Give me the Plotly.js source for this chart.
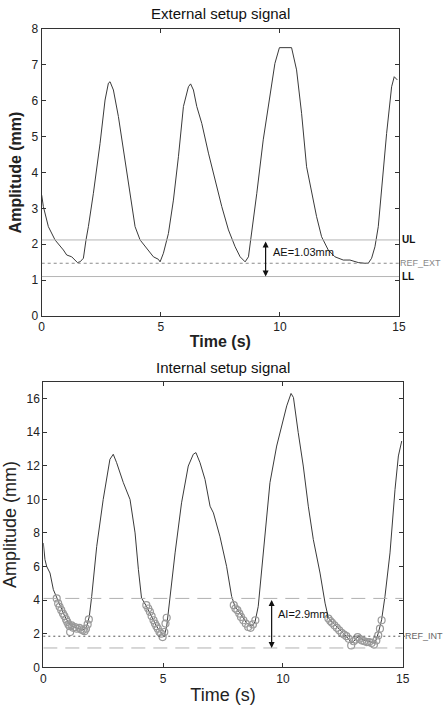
<!DOCTYPE html>
<html><head><meta charset="utf-8">
<script src="https://cdn.plot.ly/plotly-3.0.1.min.js"></script>
<style>html,body{margin:0;padding:0;background:#fff}#chart{width:445px;height:705px}</style>
</head><body><div id="chart"></div>
<script>
// External setup signal (top)
const extT = [0,0.07,0.28,0.56,0.91,1.05,1.26,1.50,1.61,1.75,1.86,1.96,2.17,2.45,2.66,2.80,2.87,3.01,3.22,3.50,3.78,3.92,4.13,4.41,4.69,4.90,4.97,5.11,5.32,5.53,5.74,5.95,6.16,6.25,6.37,6.51,6.72,7.00,7.28,7.56,7.84,8.12,8.33,8.54,8.68,8.82,9.03,9.30,9.58,9.79,9.98,10.49,10.70,10.91,11.12,11.33,11.54,11.75,12.03,12.31,12.66,12.94,13.29,13.57,13.71,13.85,13.99,14.13,14.27,14.48,14.69,14.80,14.93];
const extA = [3.37,3.05,2.49,2.12,1.84,1.70,1.65,1.49,1.51,1.61,2.12,2.49,3.42,4.81,6.02,6.49,6.53,6.30,5.56,4.35,3.23,2.49,2.12,1.89,1.65,1.58,1.51,1.75,2.30,3.23,4.44,5.84,6.39,6.47,6.30,5.84,5.37,4.54,3.79,3.05,2.40,1.93,1.65,1.51,1.65,2.30,3.42,4.91,6.12,7.04,7.48,7.48,6.86,5.65,4.16,3.42,2.77,2.21,1.84,1.65,1.56,1.56,1.49,1.47,1.47,1.61,1.93,2.49,3.61,5.09,6.39,6.67,6.58];
// Internal setup signal (bottom)
const intT = [0,0.07,0.14,0.28,0.42,0.56,0.70,0.90,1.11,1.39,1.67,1.81,1.92,2.02,2.23,2.50,2.78,2.92,3.06,3.34,3.62,3.83,3.97,4.10,4.31,4.52,4.73,4.94,5.04,5.15,5.29,5.50,5.77,6.05,6.26,6.37,6.54,6.75,6.96,7.10,7.37,7.65,7.86,8.00,8.21,8.49,8.70,8.84,8.97,9.18,9.46,9.74,9.95,10.16,10.34,10.44,10.64,10.85,11.06,11.27,11.55,11.76,11.90,12.10,12.38,12.66,12.87,13.01,13.15,13.36,13.64,13.84,13.98,14.12,14.26,14.47,14.68,14.82,14.96];
const intA = [7.40,6.41,6.01,5.61,4.62,4.12,3.62,3.02,2.53,2.33,2.23,2.43,3.02,4.22,7.20,9.99,12.38,12.68,12.18,10.99,9.99,8.00,5.81,4.12,3.62,3.02,2.43,2.03,1.83,2.43,4.22,6.81,9.79,11.98,12.68,12.78,12.18,11.18,9.59,9.19,7.80,6.01,4.22,3.62,3.22,2.63,2.43,2.73,3.62,6.61,10.99,13.17,14.37,15.56,16.30,16.06,13.97,11.98,9.59,7.60,5.61,3.82,2.93,2.63,2.23,1.83,1.43,1.63,1.83,1.63,1.53,1.43,2.03,2.83,4.22,6.81,10.59,12.58,13.47];
// Gated (circled) samples of internal signal
const gateT = [0.56,0.62,0.68,0.75,0.82,0.88,0.95,1.00,1.05,1.10,1.12,1.18,1.25,1.32,1.40,1.50,1.58,1.65,1.72,1.78,1.85,1.90,
  4.30,4.38,4.45,4.52,4.60,4.66,4.72,4.78,4.85,4.92,4.98,5.05,5.10,5.15,
  7.95,8.02,8.10,8.18,8.25,8.35,8.45,8.55,8.65,8.75,8.85,
  11.90,11.98,12.05,12.15,12.25,12.35,12.45,12.55,12.65,12.75,12.85,12.95,13.05,13.12,13.20,13.30,13.40,13.50,13.60,13.70,13.80,13.90,13.98,14.05,14.12];
const gateA = [4.10,3.80,3.60,3.40,3.20,3.05,2.85,2.70,2.55,2.45,2.10,2.50,2.35,2.40,2.30,2.35,2.25,2.20,2.15,2.30,2.55,2.85,
  3.70,3.50,3.30,3.05,2.80,2.60,2.45,2.30,2.10,2.00,1.80,2.10,2.60,2.95,
  3.70,3.50,3.40,3.20,3.00,2.80,2.60,2.40,2.35,2.55,2.80,
  2.90,2.75,2.65,2.50,2.35,2.20,2.05,1.95,1.85,1.70,1.30,1.55,1.65,1.80,1.70,1.60,1.55,1.50,1.50,1.45,1.35,1.60,1.90,2.30,2.80];
// Reference levels
const extLevels = {UL: 2.12, REF_EXT: 1.47, LL: 1.10};
const intLevels = {upper: 4.10, REF_INT: 1.85, lower: 1.15};
const extLabel = 'AE=1.03mm';
const intLabel = 'AI=2.9mm';
const arrowX = [9.4, 9.53];

const FONT = 'Liberation Sans, Arial, sans-serif';
const lineC = '#3a3a3a';

const traces = [
  {x: extT, y: extA, xaxis:'x', yaxis:'y', mode:'lines', line:{color:lineC, width:1}, hoverinfo:'skip'},
  {x: intT, y: intA, xaxis:'x2', yaxis:'y2', mode:'lines', line:{color:lineC, width:1}, hoverinfo:'skip'},
  {x: gateT, y: gateA, xaxis:'x2', yaxis:'y2', mode:'markers', marker:{symbol:'circle-open', size:7, color:'#9a9a9a', line:{width:1.2}}, hoverinfo:'skip'}
];

function axCommon(extra){
  return Object.assign({
    showgrid:false, zeroline:false, showline:true, linecolor:'#333', linewidth:1, mirror:'ticks',
    ticks:'inside', ticklen:4, tickcolor:'#333',
    tickfont:{family:FONT, size:12, color:'#222'}
  }, extra);
}

const xd1 = [41.7/445, 399/445], yd1 = [1-316/705, 1-29/705];
const xd2 = [43.3/445, 402.7/445], yd2 = [1-667.3/705, 1-381.7/705];

const shapes = [
  {type:'line', xref:'x', yref:'y', x0:0, x1:15, y0:extLevels.UL, y1:extLevels.UL, line:{color:'#b5b5b5', width:1}},
  {type:'line', xref:'x', yref:'y', x0:0, x1:15, y0:extLevels.LL, y1:extLevels.LL, line:{color:'#b5b5b5', width:1}},
  {type:'line', xref:'x', yref:'y', x0:0, x1:15, y0:extLevels.REF_EXT, y1:extLevels.REF_EXT, line:{color:'#8a8a8a', width:1, dash:'3px,3px'}},
  {type:'line', xref:'x2', yref:'y2', x0:0, x1:15, y0:intLevels.upper, y1:intLevels.upper, line:{color:'#b0b0b0', width:1, dash:'14px,8px'}},
  {type:'line', xref:'x2', yref:'y2', x0:0, x1:15, y0:intLevels.lower, y1:intLevels.lower, line:{color:'#b0b0b0', width:1, dash:'14px,8px'}},
  {type:'line', xref:'paper', yref:'y2', x0:xd2[0], x1:405/445, y0:intLevels.REF_INT, y1:intLevels.REF_INT, line:{color:'#555', width:1, dash:'2px,3px'}}
];

const annotations = [
  {xref:'paper', yref:'paper', x:(xd1[0]+xd1[1])/2, y:1-13/705, text:'External setup signal', showarrow:false, font:{family:FONT, size:15, color:'#111'}, xanchor:'center', yanchor:'middle'},
  {xref:'paper', yref:'paper', x:(xd2[0]+xd2[1])/2, y:1-367/705, text:'Internal setup signal', showarrow:false, font:{family:FONT, size:15, color:'#111'}, xanchor:'center', yanchor:'middle'},
  // arrows
  {xref:'x', yref:'y', axref:'x', ayref:'y', x:arrowX[0], y:extLevels.LL, ax:arrowX[0], ay:extLevels.UL, text:'', showarrow:true, arrowside:'end+start', arrowhead:2, arrowsize:1, arrowwidth:1.2, arrowcolor:'#111'},
  {xref:'x', yref:'y', x:arrowX[0]+0.22, y:1.78, text:extLabel, showarrow:false, xanchor:'left', yanchor:'middle', font:{family:FONT, size:11, color:'#111'}},
  {xref:'x2', yref:'y2', axref:'x2', ayref:'y2', x:arrowX[1], y:intLevels.lower, ax:arrowX[1], ay:intLevels.upper, text:'', showarrow:true, arrowside:'end+start', arrowhead:2, arrowsize:1, arrowwidth:1.2, arrowcolor:'#111'},
  {xref:'x2', yref:'y2', x:arrowX[1]+0.2, y:3.2, text:intLabel, showarrow:false, xanchor:'left', yanchor:'middle', font:{family:FONT, size:11, color:'#111'}},
  // level labels
  {xref:'paper', yref:'y', x:xd1[1], xshift:1, y:extLevels.UL, text:'<b>UL</b>', showarrow:false, xanchor:'left', yanchor:'middle', font:{family:FONT, size:10, color:'#111'}},
  {xref:'paper', yref:'y', x:xd1[1], xshift:-1, y:extLevels.REF_EXT, text:'REF_EXT', showarrow:false, xanchor:'left', yanchor:'middle', font:{family:FONT, size:9, color:'#888'}},
  {xref:'paper', yref:'y', x:xd1[1], xshift:1, y:extLevels.LL, text:'<b>LL</b>', showarrow:false, xanchor:'left', yanchor:'middle', font:{family:FONT, size:10, color:'#111'}},
  {xref:'paper', yref:'y2', x:404/445, xshift:-1, y:intLevels.REF_INT, text:'REF_INT', showarrow:false, xanchor:'left', yanchor:'middle', font:{family:FONT, size:9, color:'#666'}}
];

const layout = {
  width:445, height:705, margin:{l:0,r:0,t:0,b:0},
  paper_bgcolor:'#fff', plot_bgcolor:'#fff', showlegend:false,
  font:{family:FONT},
  xaxis: axCommon({domain:xd1, anchor:'y', range:[0,15], tickvals:[0,5,10,15],
    title:{text:'<b>Time (s)</b>', font:{family:FONT, size:16, color:'#222'}, standoff:2}}),
  yaxis: axCommon({domain:yd1, anchor:'x', range:[0,8], dtick:1,
    title:{text:'<b>Amplitude (mm)</b>', font:{family:FONT, size:16, color:'#222'}, standoff:6}}),
  xaxis2: axCommon({domain:xd2, anchor:'y2', range:[0,15], tickvals:[0,5,10,15],
    title:{text:'Time (s)', font:{family:FONT, size:18, color:'#222'}, standoff:4}}),
  yaxis2: axCommon({domain:yd2, anchor:'x2', range:[0,17], tickvals:[0,2,4,6,8,10,12,14,16],
    title:{text:'Amplitude (mm)', font:{family:FONT, size:18, color:'#222'}, standoff:6}}),
  shapes, annotations
};

Plotly.newPlot('chart', traces, layout, {displayModeBar:false, staticPlot:true});
</script></body></html>
